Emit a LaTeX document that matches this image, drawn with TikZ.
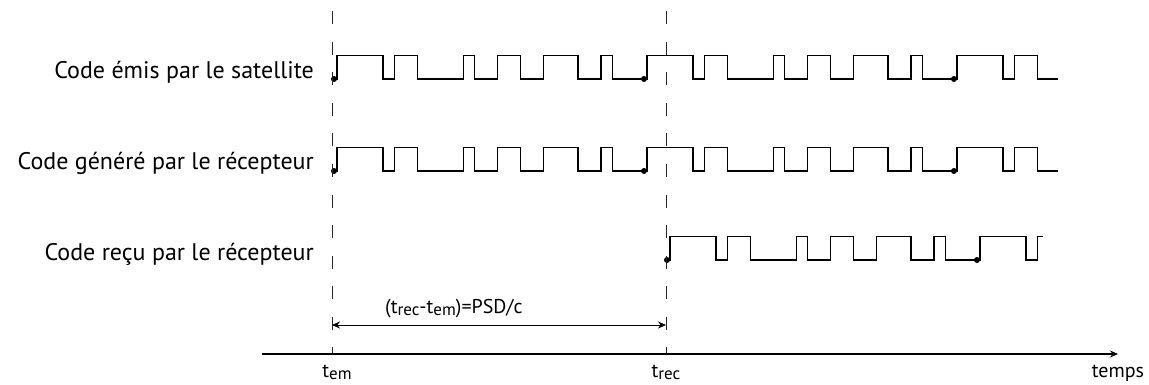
\documentclass[tikz,border=0pt]{standalone}
\usepackage{fontspec}
\setmainfont{PT Sans}
\usetikzlibrary{arrows.meta}
\newcommand{\lsub}[1]{\raisebox{-0.1em}{\scalebox{0.85}{#1}}}
\begin{document}
\begin{tikzpicture}[x=1pt, y=-1pt, >={Stealth[length=8pt, width=7pt]},
    every node/.style={font=\fontsize{24}{28}\selectfont, inner sep=0pt},
    small/.style={font=\fontsize{20}{24}\selectfont},
    wave/.style={line width=1.3pt, line join=miter},
    tdash/.style={line width=1pt, black!85, dash pattern=on 13pt off 17.5pt}]
    \useasboundingbox (0,0) rectangle (1149,385);
    \def\u{11.48}
    \def\h{23.3}
    \def\code{4/1,2/4,1/2,2/2,3/2,1/3}
    \foreach \idx/\yl in {emis/79, gen/171} {
        \draw[wave] (334,\yl) -- (337,\yl)
            \foreach \per in {1,2} {\foreach \a/\b in \code
                {-- ++(0,-\h) -- ++(\a*\u,0) -- ++(0,\h) -- ++(\b*\u,0)}}
            -- ++(0,-\h) -- ++(4*\u,0) -- ++(0,\h) -- ++(\u,0)
            -- ++(0,-\h) -- ++(2*\u,0) -- ++(0,\h) -- ++(1.8*\u,0);
        \foreach \per in {0,1,2} \fill ({334+27*\per*\u},\yl) circle (3pt);
    }
    \draw[wave] (667,260) -- (670,260)
        \foreach \a/\b in \code
            {-- ++(0,-\h) -- ++(\a*\u,0) -- ++(0,\h) -- ++(\b*\u,0)}
        -- ++(0,-\h) -- ++(4*\u,0) -- ++(0,\h) -- ++(\u,0)
        -- ++(0,-\h) -- ++(0.5*\u,0);
    \foreach \per in {0,1} \fill ({667+27*\per*\u},260) circle (3pt);
    \node[anchor=base east] (l-emis) at (314,79) {Code émis par le satellite};
    \node[anchor=base east] (l-gen) at (314,170) {Code généré par le récepteur};
    \node[anchor=base east] (l-recu) at (314,260) {Code reçu par le récepteur};
    \foreach \idx/\x in {em/332, rec/666} {
        \coordinate (\idx-top) at (\x,11.5);
        \coordinate (\idx-bot) at (\x,354);
        \coordinate (\idx-arr) at (\x,325);
        \draw[tdash] (\idx-top) -- (\idx-bot);
    }
    \draw[line width=1pt, <->] (em-arr) -- (rec-arr);
    \node[small, anchor=base west] (delta) at (385,313)
        {(t\lsub{rec}-t\lsub{em})=PSD/c};
    \coordinate (ax-start) at (262,354);
    \coordinate (ax-end) at (1118,354);
    \draw[line width=1.3pt, ->] (ax-start) -- (ax-end);
    \node[small, anchor=base] (l-tem) at (337,377) {t\lsub{em}};
    \node[small, anchor=base] (l-trec) at (666,377) {t\lsub{rec}};
    \node[small, anchor=base] (l-temps) at (1118,377) {temps};
\end{tikzpicture}
\end{document}
